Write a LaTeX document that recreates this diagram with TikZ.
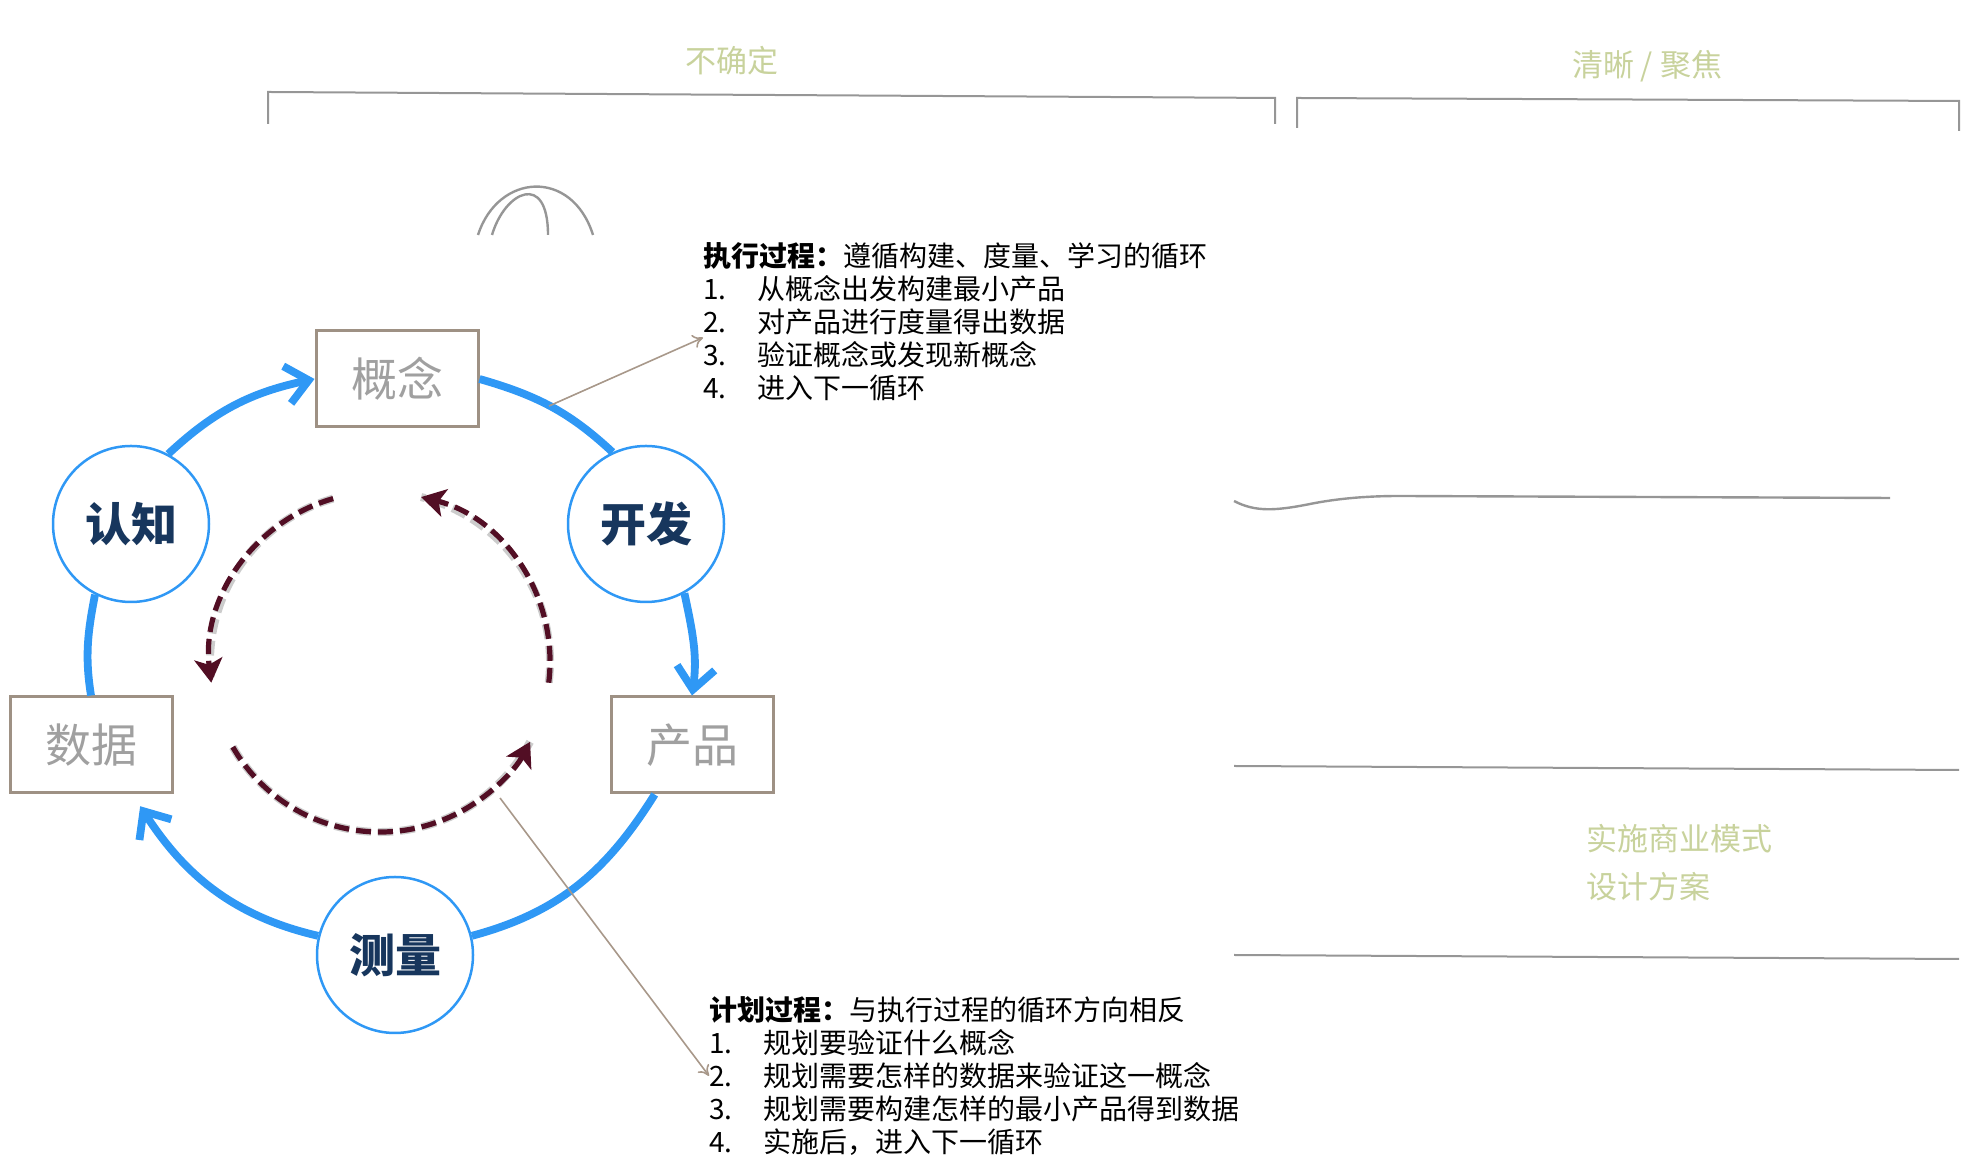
\documentclass[tikz,border=0pt]{standalone}
\usepackage{fontspec}
\setmainfont{Noto Sans CJK SC}
\usetikzlibrary{arrows.meta}

\definecolor{cycleblue}{RGB}{47,152,245}
\definecolor{navytext}{RGB}{23,54,93}
\definecolor{boxline}{RGB}{158,145,132}
\definecolor{boxtext}{RGB}{160,160,160}
\definecolor{plumdash}{RGB}{82,14,36}
\definecolor{pointergray}{RGB}{168,152,138}
\definecolor{sketchgreen}{RGB}{200,210,156}
\definecolor{sketchline}{RGB}{150,150,150}

\newcommand\listrow[2]{\makebox[27pt][l]{#1}#2}

\begin{document}
\begin{tikzpicture}[x=0.5pt, y=0.5pt, >=Stealth,
  stage/.style={circle, draw=cycleblue, line width=1.25pt, fill=white, minimum size=78pt, inner sep=0pt, text=navytext, font=\fontsize{23}{23}\selectfont\bfseries},
  thing/.style={draw=boxline, line width=1.5pt, fill=white, minimum width=81pt, minimum height=48pt, inner sep=0pt, text=boxtext, font=\fontsize{23}{23}\selectfont},
  flow/.style={draw=cycleblue, line width=3.9pt},
  flowtip/.style={flow, -{Straight Barb[length=11pt, width=19pt]}},
  plan/.style={draw=plumdash, line width=2.6pt, dash pattern=on 7.5pt off 3.5pt, -{Stealth[length=12pt, width=14pt, inset=3pt]}},
  planshadow/.style={draw=black!20, line width=4pt, dash pattern=on 7.5pt off 3.5pt, xshift=1pt, yshift=-1pt},
  note/.style={align=left, inner sep=0pt, anchor=north west, font=\fontsize{14}{16.5}\selectfont},
  pointer/.style={draw=pointergray, line width=0.8pt, -{To[length=5pt, width=7pt]}},
  sketch/.style={draw=sketchline, line width=1pt},
  sketchtitle/.style={text=sketchgreen, inner sep=0pt, font=\fontsize{15.5}{20}\selectfont}]
\useasboundingbox (0,0) rectangle (1979,1176);

% sketch in the background
\node[sketchtitle] (unsure) at (732,1115) {不确定};
\node[sketchtitle] (focus) at (1647,1110) {清晰 / 聚焦};
\draw[sketch] (268,1052) -- (268,1084) -- (1275,1078) -- (1275,1052);
\draw[sketch] (1297,1048) -- (1297,1078) -- (1959,1075) -- (1959,1045);
\draw[sketch, line width=1.2pt] (478,941) .. controls (498,1003) and (572,1008) .. (593,941);
\draw[sketch, line width=1.2pt] (492,941) .. controls (505,985) and (548,1005) .. (548,941);
\draw[sketch, line width=1.2pt] (1234,675) .. controls (1255,664) and (1275,665) .. (1310,672) .. controls (1340,678) and (1370,680) .. (1400,680) -- (1890,678);
\draw[sketch] (1234,410) -- (1959,406);
\draw[sketch] (1234,221) -- (1959,217);
\node[sketchtitle, anchor=west] (bizmodel) at (1586,337) {实施商业模式};
\node[sketchtitle, anchor=west] (design) at (1586,289) {设计方案};

% cycle
\node[thing] (gainian) at (397,797) {概念};
\node[thing] (chanpin) at (692,431) {产品};
\node[thing] (shuju) at (91,431) {数据};
\node[stage] (renzhi) at (131,652) {认知};
\node[stage] (kaifa) at (646,652) {开发};
\node[stage] (celiang) at (395,221) {测量};

\draw[flowtip] (renzhi.62) to[out=43, in=192] (gainian.west);
\draw[flow] (gainian.east) to[out=-16, in=137] (kaifa.115);
\draw[flowtip] (kaifa.-61) to[out=-78, in=82] (chanpin.north);
\draw[flow] (chanpin.233) to[out=238, in=15] (celiang.14);
\draw[flowtip, shorten >=7pt] (celiang.166) to[out=167, in=-57] (shuju.-50);
\draw[flow] (shuju.north) to[out=99, in=259] (renzhi.243);

% planning loop, reverse direction
\coordinate (hub) at (380,514);
\foreach \a/\b in {106/187, 210/332, -7/76}{
  \draw[planshadow] (hub) ++(\a:170) arc[start angle=\a, end angle=\b, radius=170];
  \draw[plan] (hub) ++(\a:170) arc[start angle=\a, end angle=\b, radius=170];
}

% notes
\node[note] (exec) at (703,934) {\textbf{执行过程：}遵循构建、度量、学习的循环\\
  \listrow{1.}{从概念出发构建最小产品}\\
  \listrow{2.}{对产品进行度量得出数据}\\
  \listrow{3.}{验证概念或发现新概念}\\
  \listrow{4.}{进入下一循环}};
\node[note] (planning) at (709,180) {\textbf{计划过程：}与执行过程的循环方向相反\\
  \listrow{1.}{规划要验证什么概念}\\
  \listrow{2.}{规划需要怎样的数据来验证这一概念}\\
  \listrow{3.}{规划需要构建怎样的最小产品得到数据}\\
  \listrow{4.}{实施后，进入下一循环}};
\coordinate (execfoot) at (549,770);
\coordinate (planfoot) at (500,378);
\draw[pointer] (execfoot) -- ([yshift=-8pt]exec.west);
\draw[pointer] (planfoot) -- (planning.west);
\end{tikzpicture}
\end{document}
